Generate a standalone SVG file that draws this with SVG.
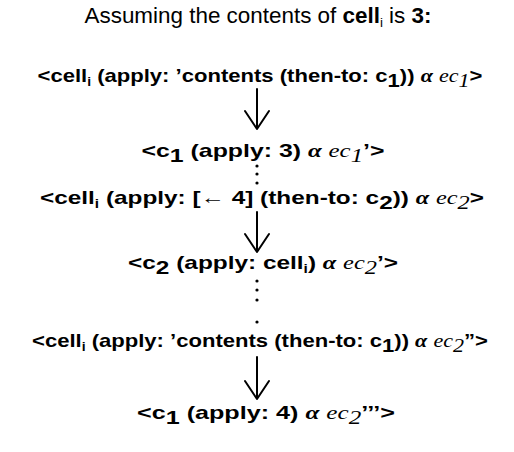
<svg xmlns="http://www.w3.org/2000/svg" width="514" height="452" viewBox="0 0 514 452">
<style>
.t{font-family:"Liberation Sans","DejaVu Sans",sans-serif;font-size:19px;font-weight:bold;fill:#000;text-anchor:middle}
.ti{font-family:"Liberation Sans","DejaVu Sans",sans-serif;font-size:22px;fill:#000;text-anchor:middle}
.it{font-family:"Liberation Serif",serif;font-style:italic;font-weight:normal}
.al{font-family:"Liberation Serif",serif;font-style:italic;font-weight:bold}
.c{stroke:#000;stroke-width:2;fill:none;stroke-linecap:round;stroke-linejoin:round}
.d{fill:#000}
</style>
<rect width="514" height="452" fill="#fff"/>
<g id="title">
<text class="ti" x="258" y="23" textLength="347" lengthAdjust="spacingAndGlyphs">Assuming the contents of <tspan font-weight="bold">cell</tspan><tspan font-size="13" dy="4">i</tspan><tspan dy="-4"> is </tspan><tspan font-weight="bold">3:</tspan></text>
</g>
<g id="n1">
<text class="t" x="260" y="82" textLength="445" lengthAdjust="spacingAndGlyphs">&lt;cell<tspan font-size="12" dy="4">i</tspan><tspan dy="-4"> (apply: ’contents (then-to: c</tspan><tspan dy="5">1</tspan><tspan dy="-5">)) </tspan><tspan class="al">α</tspan> <tspan class="it">ec</tspan><tspan class="it" dy="5">1</tspan><tspan dy="-5">&gt;</tspan></text>
</g>
<g id="n2">
<text class="t" x="263" y="157" textLength="243" lengthAdjust="spacingAndGlyphs">&lt;c<tspan dy="5">1</tspan><tspan dy="-5"> (apply: 3) </tspan><tspan class="al">α</tspan> <tspan class="it">ec</tspan><tspan class="it" dy="5">1</tspan><tspan dy="-5">’&gt;</tspan></text>
</g>
<g id="n3">
<text class="t" x="262" y="204" textLength="444" lengthAdjust="spacingAndGlyphs">&lt;cell<tspan font-size="12" dy="4">i</tspan><tspan dy="-4"> (apply: [← 4] (then-to: c</tspan><tspan dy="5">2</tspan><tspan dy="-5">)) </tspan><tspan class="al">α</tspan> <tspan class="it">ec</tspan><tspan class="it" dy="5">2</tspan><tspan dy="-5">&gt;</tspan></text>
</g>
<g id="n4">
<text class="t" x="263" y="269" textLength="270" lengthAdjust="spacingAndGlyphs">&lt;c<tspan dy="5">2</tspan><tspan dy="-5"> (apply: cell</tspan><tspan font-size="12" dy="4">i</tspan><tspan dy="-4">) </tspan><tspan class="al">α</tspan> <tspan class="it">ec</tspan><tspan class="it" dy="5">2</tspan><tspan dy="-5">’&gt;</tspan></text>
</g>
<g id="n5">
<text class="t" x="260" y="347" textLength="456" lengthAdjust="spacingAndGlyphs">&lt;cell<tspan font-size="12" dy="4">i</tspan><tspan dy="-4"> (apply: ’contents (then-to: c</tspan><tspan dy="5">1</tspan><tspan dy="-5">)) </tspan><tspan class="al">α</tspan> <tspan class="it">ec</tspan><tspan class="it" dy="5">2</tspan><tspan dy="-5">”&gt;</tspan></text>
</g>
<g id="n6">
<text class="t" x="266" y="419" textLength="258" lengthAdjust="spacingAndGlyphs">&lt;c<tspan dy="5">1</tspan><tspan dy="-5"> (apply: 4) </tspan><tspan class="al">α</tspan> <tspan class="it">ec</tspan><tspan class="it" dy="5">2</tspan><tspan dy="-5">’’’&gt;</tspan></text>
</g>
<g id="connectors">
<path class="c" d="M257 89 V129 M245 111 L257 129 L269 111"/>
<circle class="d" cx="257" cy="166" r="1.6"/><circle class="d" cx="257" cy="174" r="1.6"/><circle class="d" cx="257" cy="183" r="1.6"/>
<path class="c" d="M257 212 V252 M245 234 L257 252 L269 234"/>
<circle class="d" cx="257" cy="281" r="1.6"/><circle class="d" cx="257" cy="290" r="1.6"/><circle class="d" cx="257" cy="300" r="1.6"/><circle class="d" cx="257" cy="322" r="1.6"/>
<path class="c" d="M257 357 V399 M245 381 L257 399 L269 381"/>
</g>
</svg>
